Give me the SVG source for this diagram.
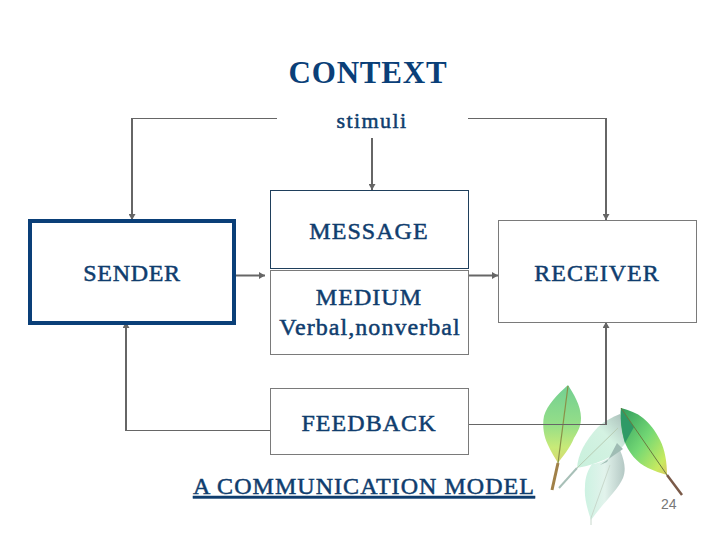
<svg xmlns="http://www.w3.org/2000/svg" width="720" height="540" viewBox="0 0 720 540">
<style>
.t{font-family:"Liberation Serif","Times New Roman",serif;font-size:24px;fill:#0f3d6e;stroke:#0f3d6e;stroke-width:.5;text-anchor:middle;letter-spacing:1.05px}
.box{fill:#fff;stroke:#7a7a7a;stroke-width:1}
.c{fill:none;stroke:#666;stroke-width:2}
.thin{fill:none;stroke:#666;stroke-width:1}
</style>
<defs>
<marker id="a" markerUnits="userSpaceOnUse" markerWidth="7" markerHeight="7" refX="6" refY="3.5" orient="auto"><path d="M0 0L6 3.5L0 7Z" fill="#666"/></marker>
<linearGradient id="g1" x1="0.5" y1="0" x2="0.5" y2="1"><stop offset="0" stop-color="#72cf92"/><stop offset=".5" stop-color="#94de88"/><stop offset=".8" stop-color="#c8ea78"/><stop offset="1" stop-color="#d8d870"/></linearGradient>
<linearGradient id="g2" x1="0" y1="0" x2="1" y2="1"><stop offset="0" stop-color="#2d9a5c"/><stop offset=".5" stop-color="#74d874"/><stop offset=".85" stop-color="#c8ea60"/><stop offset="1" stop-color="#d8c860"/></linearGradient>
<linearGradient id="g3" x1="0" y1="1" x2="1" y2="0"><stop offset="0" stop-color="#c8f0dc"/><stop offset=".6" stop-color="#d4f2e2"/><stop offset="1" stop-color="#a8bcb8"/></linearGradient>
<linearGradient id="g4" x1="0" y1="0" x2="1" y2="0"><stop offset="0" stop-color="#cdf2e2"/><stop offset=".5" stop-color="#e2f3ec"/><stop offset="1" stop-color="#b4c8c4"/></linearGradient>
</defs>
<text class="t" x="368" y="83" style="font-size:31px;font-weight:bold;stroke:none;fill:#0a3f78;letter-spacing:.8px">CONTEXT</text>
<g id="leaves">
<path d="M577 468C578 455 584 442 598 427C605 421 612 417 620 414L626 442C620 452 608 459 596 463C590 465 583 467 577 468Z" fill="url(#g3)"/>
<path d="M559 488L577 468" stroke="#a8c0b8" stroke-width="2" fill="none"/>
<path d="M577 468L618 428" stroke="#b8ccb4" stroke-width="1" fill="none"/>
<path d="M620 450C625 462 626 470 623 478C618 490 604 502 591 520C587 508 584 497 585 487C585 477 588 470 592 464C602 463 612 457 620 450Z" fill="url(#g4)"/>
<path d="M607 462L617 443L623 449L600 465Z" fill="#9fbcb4"/>
<path d="M591 525L591 518L610 465" stroke="#c8d8cc" stroke-width="1" fill="none"/>
<path d="M568 385C558 394 547 405 544 416C542 426 544 437 548 445C551 452 555 458 558 463C563 456 570 448 574 438C579 430 581 425 581 418C581 405 573 393 568 385Z" fill="url(#g1)"/>
<path d="M568 386L558 463" stroke="#8a9048" stroke-width="1.200" fill="none"/>
<path d="M558 463L552 490" stroke="#a08048" stroke-width="3" fill="none"/>
<path d="M621 408C620 418 621 430 624 440C628 452 637 463 648 468C654 471 661 473 667 475C667 462 665 450 660 440C655 430 650 424 643 418C637 413 629 410 621 408Z" fill="url(#g2)"/>
<path d="M621 408L634 427L625 443C622 432 620 418 621 408Z" fill="#2e9a66"/>
<path d="M621 408L667 475" stroke="#6a7a40" stroke-width="1" fill="none"/>
<path d="M667 475L682 495" stroke="#7a5a48" stroke-width="2.500" fill="none"/>
</g>
<g id="connectors">
<path class="thin" d="M277 118.500H132"/>
<path class="c" d="M132 118V220" marker-end="url(#a)"/>
<path class="thin" d="M468 118.500H606"/>
<path class="c" d="M606 118V220" marker-end="url(#a)"/>
<path class="c" d="M372 138V190" marker-end="url(#a)"/>
<path class="c" d="M236 275.500H265" marker-end="url(#a)"/>
<path class="c" d="M469 275.500H498" marker-end="url(#a)"/>
<path class="thin" d="M270 430.500H126"/>
<path class="c" d="M126 431V322" marker-end="url(#a)"/>
<path class="thin" d="M469 424.500H606"/>
<path class="c" d="M606 425V322" marker-end="url(#a)"/>
</g>
<g id="sender"><rect x="30" y="221" width="204" height="102" fill="#fff" stroke="#0a3f78" stroke-width="4"/><text class="t" x="132" y="281" style="letter-spacing:.7px">SENDER</text></g>
<g id="stimuli"><text class="t" x="372" y="128" style="font-size:22px;letter-spacing:1.4px">stimuli</text></g>
<g id="message"><rect x="270.500" y="190.500" width="198" height="78" fill="#fff" stroke="#1f3f5c"/><text class="t" x="369" y="239">MESSAGE</text></g>
<g id="medium"><rect class="box" x="270.500" y="270.500" width="198" height="84"/><text class="t" x="369" y="305">MEDIUM</text><text class="t" x="370" y="335">Verbal,nonverbal</text></g>
<g id="receiver"><rect class="box" x="498.500" y="220.500" width="198" height="102"/><text class="t" x="597" y="281">RECEIVER</text></g>
<g id="feedback"><rect class="box" x="270.500" y="388.500" width="198" height="66"/><text class="t" x="369" y="431">FEEDBACK</text></g>
<text class="t" x="364" y="494" text-decoration="underline">A COMMUNICATION MODEL</text>
<text x="661" y="509" style="font-family:'Liberation Sans',Arial,sans-serif;font-size:14px;fill:#777">24</text>
</svg>
